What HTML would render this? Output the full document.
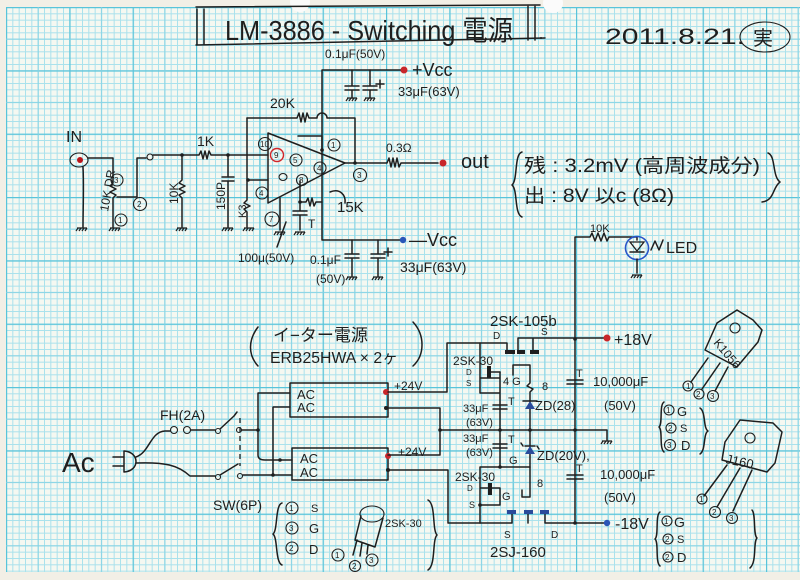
<!DOCTYPE html>
<html><head><meta charset="utf-8"><style>
html,body{margin:0;padding:0;background:#f2efe6;}
svg{display:block}
text{font-family:"Liberation Sans","Noto Sans CJK JP",sans-serif;fill:#1e1e1e}
.w{fill:none;stroke:#1e1e1e;stroke-width:1.5;stroke-linecap:round;stroke-linejoin:round}
.c{fill:none;stroke:#1e1e1e;stroke-width:1.1}
.n{font-size:8px}
</style></head><body>
<svg width="800" height="580" viewBox="0 0 800 580" xmlns="http://www.w3.org/2000/svg">
<defs>
<pattern id="pm" width="6.3333" height="6.3333" patternUnits="userSpaceOnUse" x="6" y="7">
<path d="M0 0.5H6.3333M0.5 0V6.3333" stroke="#a9e1ec" stroke-width="1" fill="none"/>
</pattern>
<pattern id="pM" width="63.333" height="63.333" patternUnits="userSpaceOnUse" x="6" y="7">
<path d="M0 0.6H63.333M0.6 0V63.333" stroke="#58c4da" stroke-width="1.2" fill="none"/>
<path d="M0 32.2H63.333M32.2 0V63.333" stroke="#85d3e4" stroke-width="1" fill="none"/>
</pattern>
<g id="gnd"><path d="M-5 0H5M-4 0L-6 3M-1 0L-3 3M2 0L0 3M5 0L3 3" fill="none" stroke="#1e1e1e" stroke-width="1.2"/></g>
</defs>
<rect x="0" y="0" width="800" height="580" fill="#f2efe6"/>
<rect x="6" y="7" width="794" height="565" fill="#f5f8f1"/>
<rect x="6" y="7" width="794" height="565" fill="url(#pm)"/>
<rect x="6" y="7" width="794" height="565" fill="url(#pM)"/>
<circle cx="300" cy="2" r="10" fill="#fbfbfb"/>
<circle cx="553" cy="3" r="10" fill="#fbfbfb"/>

<!-- Title -->
<path class="w" d="M197 9V44M204 9V44M196 45L545 38M196 7L540 5M528 5V40M535 5V40"/>
<circle cx="541" cy="38" r="1" fill="#1e1e1e"/>
<text x="225" y="40" font-size="28" textLength="288" lengthAdjust="spacingAndGlyphs">LM-3886 - Switching 電源</text>
<text x="605" y="44" font-size="22" textLength="140" lengthAdjust="spacingAndGlyphs">2011.8.21.</text>
<ellipse cx="765" cy="37" rx="25" ry="15" class="c"/>
<text x="753" y="45" font-size="20">実</text>

<!-- Vcc rail -->
<path class="w" d="M322 70H401M322 70V240H400"/>
<path class="w" d="M352 70V86M345 86H359M345 90H359M352 90V98"/>
<path class="w" d="M370 70V86M363 86H377M363 90H377M370 90V98M380 80V88M376 84H384"/>
<use href="#gnd" x="352" y="98"/><use href="#gnd" x="370" y="98"/>
<circle cx="404" cy="70" r="3.5" fill="#c8262a"/>
<text x="325" y="58" font-size="12">0.1μF(50V)</text>
<text x="412" y="76" font-size="18">+Vcc</text>
<text x="398" y="96" font-size="13">33μF(63V)</text>

<!-- feedback -->
<path class="w" d="M247 118H297L299 113L301 122L303 113L305 122L307 113L309 118H317A5 5 0 0 1 327 118H355V163"/>
<text x="270" y="108" font-size="14">20K</text>

<!-- op-amp -->
<path class="w" d="M268 133L345 163L268 203Z"/>
<path class="w" d="M298 136H322V150"/>
<circle cx="322" cy="150" r="1.8" fill="#1e1e1e"/>
<circle cx="265" cy="144" r="6.5" class="c"/><text x="260" y="147" class="n">10</text>
<circle cx="277" cy="155" r="6.5" fill="none" stroke="#d0262a" stroke-width="1.4"/><text x="274" y="158" class="n">9</text>
<circle cx="296" cy="160" r="6" class="c"/><text x="293" y="163" class="n">5</text>
<circle cx="334" cy="145" r="6" class="c"/><text x="331" y="148" class="n">1</text>
<circle cx="360" cy="175" r="6.5" class="c"/><text x="357" y="178" class="n">3</text>
<circle cx="320" cy="168" r="6" class="c"/><text x="317" y="171" class="n">4</text>
<circle cx="302" cy="180" r="5.5" class="c"/><text x="299" y="183" class="n">8</text>
<ellipse cx="283" cy="177" rx="4" ry="3.5" class="c"/>
<circle cx="262" cy="193" r="6" class="c"/><text x="259" y="196" class="n">4</text>
<circle cx="272" cy="219" r="7" class="c"/><text x="269" y="222" class="n">7</text>

<!-- input -->
<ellipse cx="79" cy="160" rx="9" ry="7" class="c"/>
<circle cx="80" cy="160" r="3" fill="#b8141a"/>
<text x="66" y="142" font-size="16">IN</text>
<path class="w" d="M83 167C84 185 83 210 83 227"/>
<use href="#gnd" x="82" y="228"/>
<path class="w" d="M88 158H113V183L110 186L116 189L110 192L116 195L113 198V227"/>
<use href="#gnd" x="115" y="228"/>
<path class="w" d="M117 197H137V158H146"/>
<circle cx="150" cy="157" r="3" class="c"/>
<path class="w" d="M153 155H199L201 151L203 159L205 151L207 159L209 151L211 155H268"/>
<text x="197" y="146" font-size="14">1K</text>
<path class="w" d="M182 155V180L179 183L185 186L179 189L185 192L179 195L182 198V227"/>
<use href="#gnd" x="182" y="228"/>
<path class="w" d="M228 155V177M222 177H234M222 181H234M228 181V227"/>
<use href="#gnd" x="228" y="228"/>
<path class="w" d="M247 118V200L244 203L250 206L244 209L247 212V227M247 180H268"/>
<use href="#gnd" x="249" y="228"/>
<circle cx="182" cy="155" r="1.8" fill="#1e1e1e"/><circle cx="228" cy="155" r="1.8" fill="#1e1e1e"/><circle cx="248" cy="180" r="1.8" fill="#1e1e1e"/>
<text transform="translate(108,212) rotate(-80)" font-size="12">10K DR</text>
<circle cx="117" cy="180" r="6" class="c"/><text x="114" y="183" class="n">3</text>
<circle cx="140" cy="204" r="6.5" class="c"/><text x="137" y="207" class="n">2</text>
<circle cx="121" cy="220" r="6" class="c"/><text x="118" y="223" class="n">1</text>
<text transform="translate(178,204) rotate(-90)" font-size="12">10K</text>
<text transform="translate(225,210) rotate(-90)" font-size="12">150P</text>
<text transform="translate(246,218) rotate(-90)" font-size="11">K3</text>

<!-- op-amp lower -->
<path class="w" d="M280 198V230"/><use href="#gnd" x="280" y="232"/>
<path class="w" d="M300 181V211M293 211H307M293 215H307M300 215V230"/><use href="#gnd" x="300" y="232"/>
<path class="w" d="M300 202H306L308 198L310 206L312 198L314 206L316 202H322"/>
<circle cx="300" cy="202" r="1.8" fill="#1e1e1e"/>
<path class="w" d="M330 192C340 188 346 195 345 203"/>
<text x="337" y="212" font-size="15">15K</text>
<text x="308" y="228" font-size="12">T</text>
<path class="w" d="M286 222L277 247"/>
<text x="238" y="262" font-size="12">100μ(50V)</text>

<!-- output -->
<path class="w" d="M345 163H387L389 158L391 167L393 158L395 167L397 158L399 167L401 163H438"/>
<circle cx="355" cy="163" r="1.8" fill="#1e1e1e"/>
<circle cx="443" cy="163" r="3.5" fill="#c8262a"/>
<text x="386" y="152" font-size="12">0.3Ω</text>
<text x="461" y="168" font-size="20">out</text>

<!-- -Vcc -->
<path class="w" d="M352 240V254M345 254H359M345 258H359M352 258V276"/><use href="#gnd" x="352" y="277"/>
<path class="w" d="M378 240V254M371 254H385M371 258H385M378 258V276M388 248V256M384 252H392"/><use href="#gnd" x="378" y="277"/>
<circle cx="403" cy="240" r="3.2" fill="#2a56b8"/>
<text x="409" y="246" font-size="18">—Vcc</text>
<text x="310" y="264" font-size="12">0.1μF</text>
<text x="316" y="283" font-size="12">(50V)</text>
<text x="400" y="272" font-size="14">33μF(63V)</text>

<!-- note block -->
<path class="w" d="M522 152C514 154 518 180 512 185C518 190 514 214 522 217"/>
<text x="524" y="172" font-size="19" textLength="236" lengthAdjust="spacingAndGlyphs">残 : 3.2mV (高周波成分)</text>
<text x="524" y="202" font-size="19" textLength="150" lengthAdjust="spacingAndGlyphs">出 : 8V 以c (8Ω)</text>
<path class="w" d="M768 153C776 156 772 176 780 182C772 188 775 200 762 202"/>

<!-- LED -->
<path class="w" d="M575 523V237H590L592 233L595 241L598 233L601 241L604 233L607 241L609 237H637V240"/>
<text x="590" y="232" font-size="11">10K</text>
<circle cx="637" cy="248" r="11.5" fill="none" stroke="#2a56c8" stroke-width="1.6"/>
<path d="M630 242H644L637 251Z" fill="none" stroke="#1e1e1e" stroke-width="1.3"/>
<path class="w" d="M630 252H644M637 259V273M651 250L655 241L659 250L663 240"/>
<use href="#gnd" x="637" y="275"/>
<text x="666" y="253" font-size="16">LED</text>

<!-- power section labels -->
<path class="w" d="M258 327C248 340 248 355 258 366"/>
<path class="w" d="M413 322C425 335 425 355 413 366"/>
<text x="273" y="341" font-size="17">イ−ター電源</text>
<text x="270" y="363" font-size="16" textLength="128" lengthAdjust="spacingAndGlyphs">ERB25HWA × 2ヶ</text>

<!-- modules -->
<rect x="290" y="383" width="98" height="34" class="w"/>
<rect x="292" y="448" width="96" height="32" class="w"/>
<text x="297" y="399" font-size="13">AC</text>
<text x="297" y="412" font-size="13">AC</text>
<text x="300" y="463" font-size="13">AC</text>
<text x="300" y="477" font-size="13">AC</text>
<circle cx="386" cy="392" r="3" fill="#c8262a"/>
<circle cx="386" cy="408" r="2" fill="#1e1e1e"/>
<circle cx="388" cy="456" r="3" fill="#c8262a"/>
<circle cx="388" cy="470" r="2" fill="#1e1e1e"/>
<text x="394" y="390" font-size="12">+24V</text>
<text x="398" y="456" font-size="12">+24V</text>

<!-- AC input -->
<text x="62" y="472" font-size="28">Ac</text>
<path class="w" d="M113 457H124M113 466H124M124 451V472M124 451C140 452 140 471 124 472"/>
<path class="w" d="M136 457C150 452 150 432 165 431H170"/>
<circle cx="174" cy="430" r="3.5" class="c"/><circle cx="187" cy="430" r="3.5" class="c"/>
<path class="w" d="M191 430H215"/>
<circle cx="218" cy="431" r="2.5" class="c"/>
<path class="w" d="M220 429L234 416L237 412"/>
<circle cx="239" cy="430" r="2.5" class="c"/>
<path class="w" d="M242 430H258"/>
<text x="160" y="420" font-size="14">FH(2A)</text>
<path class="w" d="M136 463C165 462 178 465 190 476H215"/>
<circle cx="218" cy="477" r="2.5" class="c"/>
<path class="w" d="M220 475L238 464"/>
<circle cx="240" cy="476" r="2.5" class="c"/>
<path class="w" d="M243 475H292"/>
<path d="M240 418V466" stroke="#1e1e1e" stroke-width="1.3" stroke-dasharray="5 4" fill="none"/>
<path class="w" d="M258 393H290M258 393V455Q258 460 265 460H292M290 407H273V475"/>
<circle cx="258" cy="430" r="1.8" fill="#1e1e1e"/>
<circle cx="273" cy="475" r="1.8" fill="#1e1e1e"/>
<circle cx="280" cy="460" r="1.8" fill="#1e1e1e"/>
<text x="213" y="510" font-size="14">SW(6P)</text>

<!-- pin table left -->
<path class="w" d="M282 503C275 505 278 530 273 534C278 538 275 562 282 565"/>
<circle cx="292" cy="508" r="6" class="c"/><text x="289" y="511" class="n">1</text><text x="311" y="512" font-size="11">S</text>
<circle cx="292" cy="528" r="6" class="c"/><text x="289" y="531" class="n">3</text><text x="309" y="533" font-size="13">G</text>
<circle cx="292" cy="548" r="6" class="c"/><text x="289" y="551" class="n">2</text><text x="309" y="554" font-size="13">D</text>
<ellipse cx="372" cy="514" rx="12" ry="8" class="c"/>
<path class="w" d="M361 516L355 540L375 547L383 518M357 540L353 555M362 543L360 556M368 545L367 554"/>
<circle cx="338" cy="555" r="6" class="c"/><text x="335" y="558" class="n">1</text>
<circle cx="355" cy="566" r="5.5" class="c"/><text x="352" y="569" class="n">2</text>
<circle cx="372" cy="560" r="6" class="c"/><text x="369" y="563" class="n">3</text>
<text x="385" y="527" font-size="11">2SK-30</text>
<path class="w" d="M428 500C436 504 432 530 437 535C432 540 436 565 428 570"/>

<!-- power rails -->
<path class="w" d="M388 392H447V343H507V350M518 338V350M533 338V350M518 338H604"/>
<circle cx="607" cy="338" r="3.5" fill="#c8262a"/>
<text x="614" y="345" font-size="16">+18V</text>
<rect x="505" y="350" width="10" height="4" fill="#1e1e1e"/>
<rect x="517" y="350" width="8" height="4" fill="#1e1e1e"/>
<rect x="530" y="350" width="9" height="4" fill="#1e1e1e"/>
<text x="490" y="326" font-size="15">2SK-105b</text>
<text x="493" y="339" font-size="10">D</text>
<text x="541" y="335" font-size="10">S</text>
<path class="w" d="M388 408H440V455H388M440 430H607V440"/>
<use href="#gnd" x="607" y="441"/>
<circle cx="440" cy="430" r="1.8" fill="#1e1e1e"/>
<circle cx="500" cy="430" r="1.8" fill="#1e1e1e"/>
<circle cx="530" cy="430" r="1.8" fill="#1e1e1e"/>
<circle cx="575" cy="430" r="1.8" fill="#1e1e1e"/>
<circle cx="575" cy="339" r="1.8" fill="#1e1e1e"/>
<circle cx="575" cy="523" r="1.8" fill="#1e1e1e"/>
<path class="w" d="M388 470H448V523H512V514M528 514V523M545 514V523H604"/>
<circle cx="607" cy="523" r="3.2" fill="#2a56b8"/>
<text x="615" y="529" font-size="16">-18V</text>
<rect x="507" y="510" width="9" height="4" fill="#2a4b9a"/>
<rect x="524" y="510" width="9" height="4" fill="#2a4b9a"/>
<rect x="540" y="510" width="9" height="4" fill="#2a4b9a"/>
<text x="504" y="538" font-size="10">S</text>
<text x="551" y="538" font-size="10">D</text>
<text x="490" y="557" font-size="15">2SJ-160</text>

<!-- big caps -->
<path class="w" d="M567 380H583M567 384H583M567 475H583M567 479H583"/>
<text x="576" y="377" font-size="11">T</text>
<text x="576" y="472" font-size="11">T</text>
<text x="593" y="386" font-size="13">10,000μF</text>
<text x="604" y="410" font-size="13">(50V)</text>
<text x="600" y="479" font-size="13">10,000μF</text>
<text x="604" y="502" font-size="13">(50V)</text>

<!-- upper driver -->
<path class="w" d="M480 343V393H500V378H480M500 372V467M493 405H507M493 409H507M493 444H507M493 448H507"/>
<rect x="487" y="366" width="4" height="12" fill="#1e1e1e"/>
<path class="w" d="M491 372H500M513 375V365H530V375M530 375V383L527 386L533 389L530 392V430M530 430V497H522V490"/>
<path d="M525 409H535L530 401Z" fill="#2a4b9a"/>
<path class="w" d="M523 401H537M525 446H535M523 446L521 443M537 446L539 449"/>
<path d="M525 454H535L530 446Z" fill="#2a4b9a"/>
<text x="453" y="365" font-size="12">2SK-30</text>
<text x="466" y="375" font-size="8">D</text>
<text x="466" y="386" font-size="8">S</text>
<text x="503" y="385" font-size="11">4 G</text>
<text x="542" y="390" font-size="11">8</text>
<text x="535" y="410" font-size="13">ZD(28)</text>
<text x="463" y="412" font-size="11">33μF</text>
<text x="466" y="426" font-size="11">(63V)</text>
<text x="463" y="442" font-size="11">33μF</text>
<text x="466" y="456" font-size="11">(63V)</text>
<text x="508" y="405" font-size="11">T</text>
<text x="508" y="443" font-size="11">T</text>
<text x="537" y="460" font-size="13">ZD(20V),</text>

<!-- lower driver -->
<path class="w" d="M480 467H530M480 467V523M480 488H500V505H480"/>
<rect x="488" y="483" width="4" height="12" fill="#1e1e1e"/>
<circle cx="500" cy="467" r="1.8" fill="#1e1e1e"/>
<circle cx="480" cy="505" r="1.8" fill="#1e1e1e"/>
<text x="509" y="464" font-size="11">G</text>
<text x="455" y="481" font-size="12">2SK-30</text>
<text x="467" y="491" font-size="8">D</text>
<text x="469" y="508" font-size="9">S</text>
<text x="502" y="500" font-size="11">G</text>
<text x="537" y="487" font-size="11">8</text>

<!-- K1056 -->
<path class="w" d="M717 323L737 310L753 320L762 330L758 342L737 367L705 350Z"/>
<circle cx="735" cy="328" r="5" class="c"/>
<text transform="translate(713,343) rotate(50)" font-size="12">K1056</text>
<path class="w" d="M708 358L691 382M720 363L702 389M728 367L715 391"/>
<circle cx="688" cy="386" r="5" class="c"/><text x="686" y="389" class="n">1</text>
<circle cx="699" cy="394" r="5" class="c"/><text x="696" y="397" class="n">2</text>
<circle cx="713" cy="396" r="5.5" class="c"/><text x="710" y="399" class="n">3</text>
<path class="w" d="M664 402C659 405 663 424 659 427C663 430 659 448 664 452"/>
<circle cx="669" cy="410" r="5" class="c"/><text x="666" y="413" class="n">1</text><text x="677" y="416" font-size="13">G</text>
<circle cx="671" cy="428" r="5" class="c"/><text x="668" y="431" class="n">2</text><text x="680" y="432" font-size="11">S</text>
<circle cx="670" cy="445" r="5.5" class="c"/><text x="667" y="448" class="n">3</text><text x="681" y="450" font-size="13">D</text>
<path class="w" d="M700 408C706 412 703 428 708 431C703 434 706 450 700 454"/>

<!-- J160 -->
<path class="w" d="M725 442L740 420L773 423L782 432L775 463L767 472L722 460Z"/>
<circle cx="750" cy="438" r="5" class="c"/>
<text transform="translate(725,463) rotate(12)" font-size="13">J160</text>
<path class="w" d="M727 465L704 496M740 468L717 507M752 470L733 511"/>
<circle cx="702" cy="499" r="5" class="c"/><text x="699" y="502" class="n">1</text>
<circle cx="715" cy="512" r="5.5" class="c"/><text x="712" y="515" class="n">2</text>
<circle cx="732" cy="518" r="5.5" class="c"/><text x="729" y="521" class="n">3</text>
<path class="w" d="M660 512C655 515 659 536 655 539C659 542 655 562 660 566"/>
<circle cx="667" cy="521" r="5" class="c"/><text x="664" y="524" class="n">1</text><text x="674" y="527" font-size="14">G</text>
<circle cx="668" cy="539" r="5" class="c"/><text x="665" y="542" class="n">2</text><text x="677" y="543" font-size="11">S</text>
<circle cx="668" cy="557" r="5" class="c"/><text x="665" y="560" class="n">2</text><text x="677" y="562" font-size="13">D</text>
<path class="w" d="M752 510C756 514 753 535 757 538C753 542 757 562 750 568"/>
</svg>
</body></html>
